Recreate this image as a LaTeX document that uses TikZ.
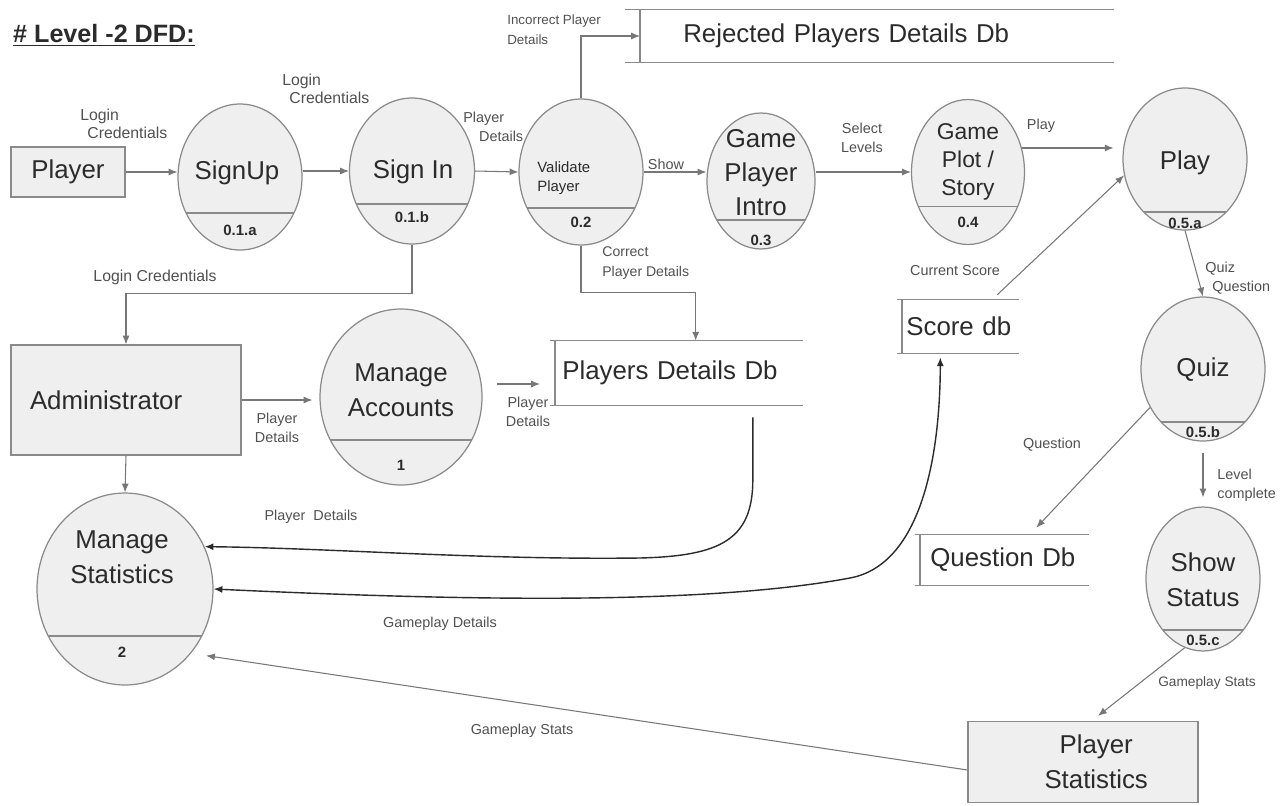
\documentclass[tikz,border=0pt]{standalone}
\usepackage{fontspec}
\setmainfont{Liberation Sans}
\usetikzlibrary{shapes.geometric, arrows.meta}

\definecolor{border}{HTML}{8A8A8A}
\definecolor{boxfill}{HTML}{EFEFEF}
\definecolor{linegray}{HTML}{777777}
\definecolor{textdark}{HTML}{2B2B2B}
\definecolor{textsmall}{HTML}{505050}

\begin{document}
\begin{tikzpicture}[x=0.02cm, y=-0.02cm, >={Latex[length=5pt,width=4pt]},
  proc/.style={ellipse, draw=border, fill=boxfill, line width=0.7pt, inner sep=0pt,
    path picture={\draw[border, line width=0.7pt] ([shift={(0,-#1)}]path picture bounding box.south west) -- ([shift={(0,-#1)}]path picture bounding box.south east);}},
  ext/.style={rectangle, draw=border, fill=boxfill, line width=0.7pt, text=textdark, font=\fontsize{14.7}{20}\selectfont, align=center},
  storeline/.style={draw=border, line width=0.7pt},
  store/.style={rectangle, inner ysep=0pt, align=left, text=textdark, font=\fontsize{14.7}{17}\selectfont,
    append after command={([xshift=-#1]\tikzlastnode.north west) edge[storeline] (\tikzlastnode.north east)
      ([xshift=-#1]\tikzlastnode.south west) edge[storeline] (\tikzlastnode.south east)
      (\tikzlastnode.north west) edge[storeline] (\tikzlastnode.south west)}},
  store/.default=3pt,
  ptext/.style={text=textdark, font=\fontsize{14.7}{20}\selectfont, align=center},
  pnum/.style={text=textdark, font=\fontsize{8.5}{10}\selectfont\bfseries},
  flowlbl/.style={text=textsmall, inner sep=0pt, font=\fontsize{8.2}{11}\selectfont},
  flow/.style={draw=linegray, line width=0.6pt},
  curve/.style={draw=textdark, line width=0.8pt}
]
\useasboundingbox (0,0) rectangle (1285,805);

\node[text=textdark, font=\fontsize{14.3}{17}\selectfont\bfseries] (title) at (104,35) {\underline{\# Level -2 DFD:}};

% external entities
\node[ext, minimum width=2.28cm, minimum height=1cm] (player) at (68,172) {Player};
\node[ext, minimum height=2.2cm, text width=3.84cm, inner xsep=0.38cm, align=left] (admin) at (126,400) {Administrator};
\node[ext, minimum width=4.6cm, minimum height=1.62cm] (pstats) at (1083,762) {\hspace*{15pt}Player\\\hspace*{15pt}Statistics};

% processes
\node[proc=37, minimum width=2.48cm, minimum height=2.92cm] (signup) at (240,177) {};
\node[proc=40, minimum width=2.5cm, minimum height=2.92cm] (signin) at (412,171) {};
\node[proc=37, minimum width=2.48cm, minimum height=2.92cm] (validate) at (581,172) {};
\node[proc=29, minimum width=2.16cm, minimum height=2.72cm] (intro) at (761,181) {};
\node[proc=38, minimum width=2.26cm, minimum height=2.9cm] (plot) at (968,172) {};
\node[proc=18, minimum width=2.48cm, minimum height=2.84cm] (play) at (1185,159) {};
\node[proc=19, minimum width=2.48cm, minimum height=2.88cm] (quiz) at (1203,369) {};
\node[proc=21, minimum width=2.28cm, minimum height=2.88cm] (status) at (1203,579) {};
\node[proc=45, minimum width=3.24cm, minimum height=3.52cm] (accounts) at (401,397) {};
\node[proc=49, minimum width=3.52cm, minimum height=3.84cm] (stats) at (125,589) {};

\node[ptext] (signup-t) at (237,173) {SignUp};
\node[ptext] (signin-t) at (413,172) {Sign In};
\node[text=textdark, font=\fontsize{8.5}{10.8}\selectfont, align=left, anchor=west, inner sep=0pt] (validate-t) at (537,178) {Validate\\Player};
\node[ptext, font=\fontsize{14.7}{19.3}\selectfont] (intro-t) at (761,173) {Game\\Player\\Intro};
\node[ptext, font=\fontsize{13}{15.9}\selectfont] (plot-t) at (968,162) {Game\\Plot /\\Story};
\node[ptext] (play-t) at (1185,163) {Play};
\node[ptext] (quiz-t) at (1203,370) {Quiz};
\node[ptext] (status-t) at (1203,580) {Show\\Status};
\node[ptext] (accounts-t) at (401,390) {Manage\\Accounts};
\node[ptext] (stats-t) at (122,557) {Manage\\Statistics};

\node[pnum] (signup-n) at (240,230) {0.1.a};
\node[pnum] (signin-n) at (412,217) {0.1.b};
\node[pnum] (validate-n) at (581,222) {0.2};
\node[pnum] (intro-n) at (761,240) {0.3};
\node[pnum] (plot-n) at (968,222) {0.4};
\node[pnum] (play-n) at (1185,223) {0.5.a};
\node[pnum] (quiz-n) at (1203,432) {0.5.b};
\node[pnum] (status-n) at (1203,640) {0.5.c};
\node[pnum] (accounts-n) at (401,465) {1};
\node[pnum] (stats-n) at (122,652) {2};

% data stores
\node[store=8.5pt, anchor=west, minimum height=1.04cm, text width=7.74cm, inner xsep=0.86cm] (rejdb) at (640,36) {Rejected Players Details Db};
\node[store, anchor=west, minimum height=1.28cm, text width=4.66cm, inner xsep=0.14cm] (pddb) at (555,373) {Players Details Db};
\node[store, anchor=west, minimum height=1.06cm, text width=2.16cm, inner xsep=0.08cm] (scoredb) at (902,326.5) {Score db};
\node[store, anchor=west, minimum height=1cm, text width=2.96cm, inner xsep=0.2cm] (qdb) at (920,560) {Question Db};

% flows
\draw[flow, ->] (player.east) -- (player.east -| signup.west);
\draw[flow, ->] (signin.west -| signup.east) -- (signin.west);
\draw[flow, ->] (signin.east) -- (validate.west);
\draw[flow, ->] (validate.east) -- (validate.east -| intro.west);
\draw[flow, ->] (plot.west -| intro.east) -- (plot.west);
\draw[flow, ->, shorten >=5pt] (plot.24) -- (plot.24 -| play.west);
\draw[flow, ->] (validate.north) |- (rejdb.west);
\draw[flow, ->] (validate.south) -- ++(0,47) -| ([xshift=9.6pt]pddb.north);
\draw[flow, ->] (signin.south) -- ++(0,49) -| (admin.north);
\draw[flow, ->] (admin.east) -- ([shift={(-7,3)}]accounts.west);
\draw[flow, ->] ([shift={(14,-13)}]accounts.east) -- ([shift={(-15,11)}]pddb.west);
\draw[flow, ->] (admin.south) -- (stats.north);
\draw[flow, ->] ([shift={(37,-5)}]scoredb.north) -- (play.195);
\draw[flow, ->] (play.south) -- (quiz.north);
\draw[flow, ->] (quiz.216) -- ([shift={(32,-7)}]qdb.north);
\draw[flow, ->] ([shift={(0,11)}]quiz.south) -- ([shift={(0,-9)}]status.north);
\draw[flow, ->] (status.255) -- ([shift={(15,-5)}]pstats.north);
\draw[flow, ->] ([shift={(0,8)}]pstats.west) -- ([shift={(10,9)}]stats.-39);

\draw[curve, ->] ([shift={(74,12)}]pddb.south) -- ++(0,63) .. controls (752.5,540) and (720,556) .. (640,558) .. controls (480,560) and (330,548) .. (stats.28);
\draw[curve, <->] (stats.east) .. controls (450,600) and (700,606) .. (850,578) .. controls (920,565) and (940,460) .. ([shift={(-20,4)}]scoredb.south);

% flow labels
\node[flowlbl, font=\fontsize{9}{10.2}\selectfont, align=left, anchor=west] (lc1) at (80,124) {Login\\\hspace*{4pt}Credentials};
\node[flowlbl, font=\fontsize{9}{10.2}\selectfont, align=left, anchor=west] (lc2) at (282,89) {Login\\\hspace*{4pt}Credentials};
\node[flowlbl, align=left, anchor=west] (pd1) at (463,127) {Player\\\hspace*{9pt}Details};
\node[flowlbl] (show) at (666,164) {Show};
\node[flowlbl, align=center] (sel) at (862,138) {Select\\Levels};
\node[flowlbl] (playlbl) at (1041,126) {Play};
\node[flowlbl, font=\fontsize{7.6}{11.3}\selectfont, align=left, anchor=west] (incorrect) at (507,30) {Incorrect Player\\Details};
\node[flowlbl, font=\fontsize{8}{11.3}\selectfont, align=left, anchor=west] (correct) at (602,263) {Correct\\Player Details};
\node[flowlbl, font=\fontsize{9}{10.2}\selectfont] (lc3) at (155,277) {Login Credentials};
\node[flowlbl, align=center] (pd2) at (277,428) {Player\\Details};
\node[flowlbl, align=center] (pd3) at (528,412) {Player\\Details};
\node[flowlbl] (pd4) at (311,517) {Player\ \ Details};
\node[flowlbl] (gpd) at (440,624) {Gameplay Details};
\node[flowlbl] (gs1) at (522,731) {Gameplay Stats};
\node[flowlbl] (curscore) at (955,271) {Current Score};
\node[flowlbl, align=left, anchor=west] (qq) at (1205,278) {Quiz\\\hspace*{4pt}Question};
\node[flowlbl] (question) at (1052,445) {Question};
\node[flowlbl, align=left, anchor=west] (levelc) at (1217,485) {Level\\complete};
\node[flowlbl, font=\fontsize{7.8}{10}\selectfont] (gs2) at (1207,683) {Gameplay Stats};

\end{tikzpicture}
\end{document}
